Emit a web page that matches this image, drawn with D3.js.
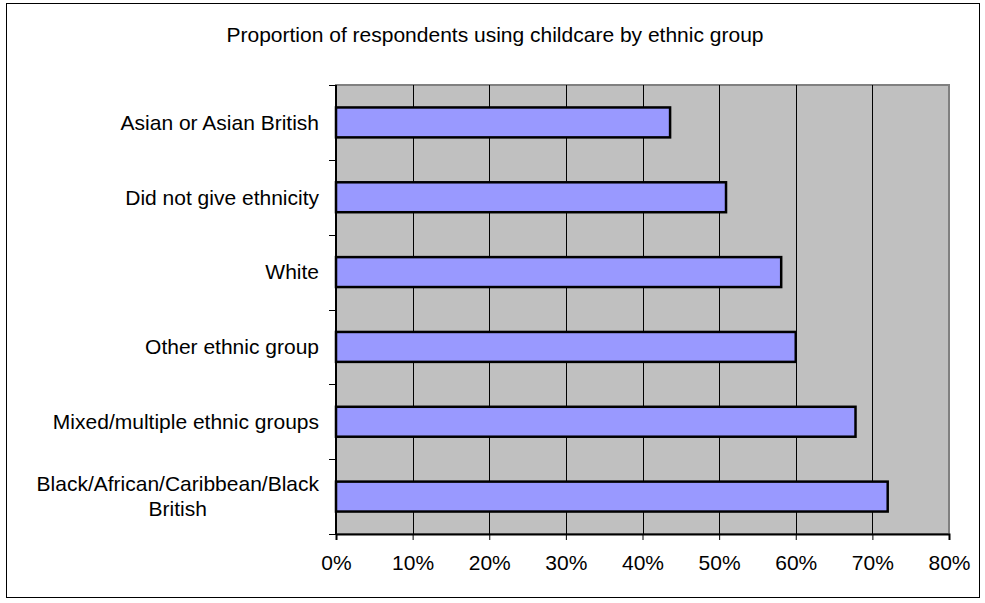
<!DOCTYPE html>
<html>
<head>
<meta charset="utf-8">
<script src="https://cdn.jsdelivr.net/npm/d3@7/dist/d3.min.js"></script>
<style>
  html, body { margin: 0; padding: 0; background: #fff; }
  svg { display: block; }
  text { font-family: "Liberation Sans", Arial, sans-serif; fill: #000; }
</style>
</head>
<body>
<svg id="chart" width="985" height="603"></svg>
<script>
// Chart data
const title = "Proportion of respondents using childcare by ethnic group";
const categories = [
  "Asian or Asian British",
  "Did not give ethnicity",
  "White",
  "Other ethnic group",
  "Mixed/multiple ethnic groups",
  "Black/African/Caribbean/Black British"
];
const values = [0.436, 0.509, 0.581, 0.60, 0.678, 0.72];
const xTicks = [0, 0.1, 0.2, 0.3, 0.4, 0.5, 0.6, 0.7, 0.8];
// Label line breaks for long category names
const labelLines = {
  "Black/African/Caribbean/Black British": ["Black/African/Caribbean/Black", "British"]
};

const svg = d3.select("#chart");
const fontSize = 21;

// Outer chart frame
svg.append("rect")
  .attr("x", 6.5).attr("y", 3.5)
  .attr("width", 973).attr("height", 594)
  .attr("fill", "#fff").attr("stroke", "#000").attr("stroke-width", 1);

// Title
svg.append("text")
  .attr("x", 495).attr("y", 42)
  .attr("text-anchor", "middle")
  .attr("font-size", fontSize)
  .text(title);

const plot = { left: 336, right: 949, top: 85, bottom: 534 };

const x = d3.scaleLinear().domain([0, 0.8]).range([plot.left, plot.right]);
const y = d3.scaleBand().domain(categories)
  .range([plot.top, plot.bottom])
  .paddingInner(0.6).paddingOuter(0.3);

// Plot area background
svg.append("rect")
  .attr("x", plot.left).attr("y", plot.top)
  .attr("width", plot.right - plot.left).attr("height", plot.bottom - plot.top)
  .attr("fill", "#c0c0c0")
  .attr("stroke", "#808080").attr("stroke-width", 2);

// Vertical gridlines
svg.append("g")
  .selectAll("line")
  .data(xTicks.slice(1, -1))
  .join("line")
  .attr("x1", d => Math.round(x(d)) + 0.5).attr("x2", d => Math.round(x(d)) + 0.5)
  .attr("y1", plot.top).attr("y2", plot.bottom)
  .attr("stroke", "#000").attr("stroke-width", 1);

// Bars
svg.append("g")
  .selectAll("rect")
  .data(categories)
  .join("rect")
  .attr("x", x(0))
  .attr("y", d => y(d))
  .attr("width", (d, i) => x(values[i]) - x(0))
  .attr("height", y.bandwidth())
  .attr("fill", "#9999ff")
  .attr("stroke", "#000").attr("stroke-width", 2.5);

// X axis
const xAxis = d3.axisBottom(x)
  .tickValues(xTicks)
  .tickFormat(d3.format(".0%"))
  .tickSize(6)
  .tickPadding(15);
const gx = svg.append("g")
  .attr("transform", `translate(0,${plot.bottom})`)
  .call(xAxis);
gx.select(".domain").attr("stroke", "#000").attr("stroke-width", 2);
gx.selectAll(".tick line").attr("stroke", "#000").attr("stroke-width", 1);
gx.selectAll(".tick text")
  .attr("font-size", fontSize)
  .attr("font-family", "'Liberation Sans', Arial, sans-serif")
  .attr("fill", "#000");

// Y axis line and category-boundary ticks
const boundaries = d3.range(categories.length + 1).map(i => plot.top + i * (plot.bottom - plot.top) / categories.length);
svg.append("line")
  .attr("x1", plot.left).attr("x2", plot.left)
  .attr("y1", plot.top).attr("y2", plot.bottom)
  .attr("stroke", "#000").attr("stroke-width", 2);
svg.append("g")
  .selectAll("line")
  .data(boundaries)
  .join("line")
  .attr("x1", plot.left - 7).attr("x2", plot.left)
  .attr("y1", d => Math.round(d) + 0.5).attr("y2", d => Math.round(d) + 0.5)
  .attr("stroke", "#000").attr("stroke-width", 1);

// Category labels
const labelRight = 319;
const lineH = 25;
const labels = svg.append("g");
categories.forEach(c => {
  const lines = labelLines[c] || [c];
  const cy = y(c) + y.bandwidth() / 2;
  const t = labels.append("text")
    .attr("font-size", fontSize);
  lines.forEach((ln, i) => {
    t.append("tspan")
      .attr("y", cy + (i - (lines.length - 1) / 2) * lineH + fontSize * 0.35)
      .text(ln);
  });
  // right-align the block, center lines within it
  const widths = t.selectAll("tspan").nodes().map(n => n.getComputedTextLength());
  const maxW = d3.max(widths);
  const cx = labelRight - maxW / 2;
  t.attr("text-anchor", "middle");
  t.selectAll("tspan").attr("x", cx);
});
</script>
</body>
</html>
